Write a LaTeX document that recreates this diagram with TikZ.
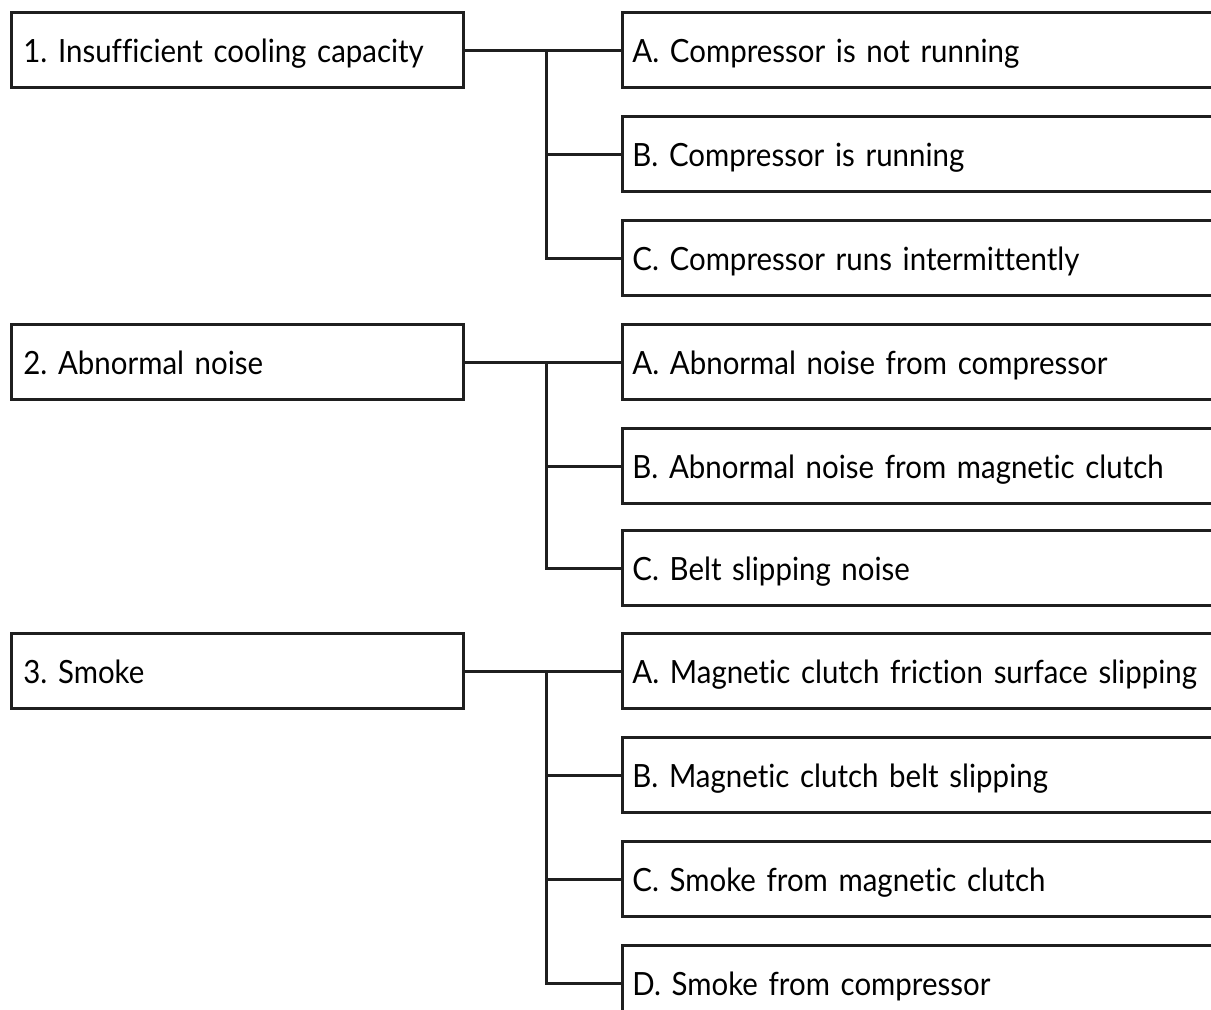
\documentclass[tikz,border=0pt]{standalone}
\usepackage{fontspec}
\setmainfont{Lato}[FakeStretch=0.92, Ligatures=NoCommon]
\begin{document}
\frenchspacing
\begin{tikzpicture}[x=1pt,y=-1pt,
  every node/.style={font=\fontsize{32}{35}\selectfont, text height=25pt, text depth=0pt},
  lbox/.style={draw=black!88, line width=2.8pt, anchor=west, minimum width=452pt, minimum height=75pt, text width=428pt, align=left, inner xsep=12pt, inner ysep=0pt},
  rbox/.style={draw=black!88, line width=2.8pt, anchor=west, minimum width=640pt, minimum height=75pt, text width=620pt, align=left, inner xsep=10pt, inner ysep=0pt},
  link/.style={draw=black!88, line width=3pt}]
\useasboundingbox (0,0) rectangle (1211,1010);
\clip (0,0) rectangle (1211,1010);
\fill[white] (0,0) rectangle (1211,1010);
% group 1
\node[lbox] (p1) at (10,50) {1. Insufficient cooling capacity};
\node[rbox] (a1) at (621,50) {A. Compressor is not running};
\node[rbox] (b1) at (621,154) {B. Compressor is running};
\node[rbox] (c1) at (621,258) {C. Compressor runs intermittently};
\coordinate (j1) at (546,50);
\draw[link] (p1.east) -- (a1.west);
\draw[link] (j1) |- (b1.west);
\draw[link] (j1) |- (c1.west);
% group 2
\node[lbox] (p2) at (10,362) {2. Abnormal noise};
\node[rbox] (a2) at (621,362) {A. Abnormal noise from compressor};
\node[rbox] (b2) at (621,466) {B. Abnormal noise from magnetic clutch};
\node[rbox] (c2) at (621,568) {C. Belt slipping noise};
\coordinate (j2) at (546,362);
\draw[link] (p2.east) -- (a2.west);
\draw[link] (j2) |- (b2.west);
\draw[link] (j2) |- (c2.west);
% group 3
\node[lbox] (p3) at (10,671) {3. Smoke};
\node[rbox] (a3) at (621,671) {A. Magnetic clutch friction surface slipping};
\node[rbox] (b3) at (621,775) {B. Magnetic clutch belt slipping};
\node[rbox] (c3) at (621,879) {C. Smoke from magnetic clutch};
\node[rbox] (d3) at (621,983) {D. Smoke from compressor};
\coordinate (j3) at (546,671);
\draw[link] (p3.east) -- (a3.west);
\draw[link] (j3) |- (b3.west);
\draw[link] (j3) |- (c3.west);
\draw[link] (j3) |- (d3.west);
\end{tikzpicture}
\end{document}
